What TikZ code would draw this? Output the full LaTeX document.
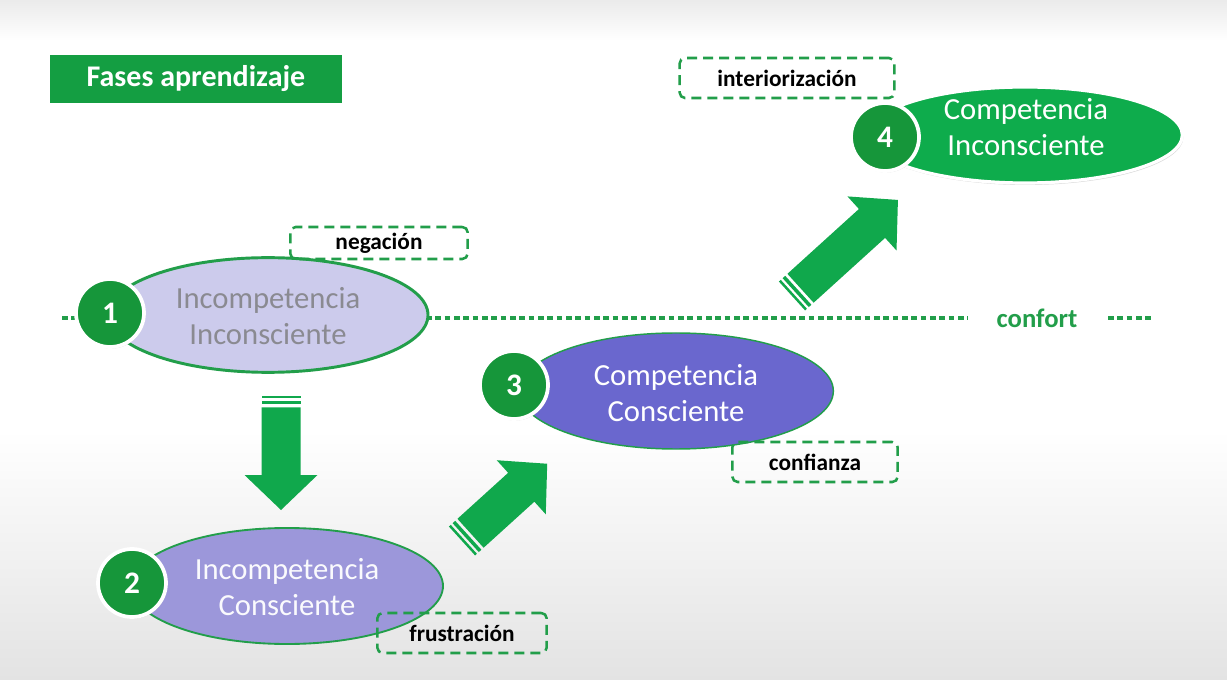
\documentclass[tikz,border=0pt]{standalone}
\usepackage{fontspec}
\setmainfont{Carlito}
\usetikzlibrary{shapes.geometric,shadows}

\definecolor{gA}{RGB}{16,168,76}
\definecolor{gT}{RGB}{20,158,66}
\definecolor{gC}{RGB}{22,150,58}
\definecolor{gL}{RGB}{34,158,74}
\definecolor{gE}{RGB}{14,172,76}
\definecolor{lavA}{RGB}{204,203,236}
\definecolor{lavB}{RGB}{156,151,218}
\definecolor{lavC}{RGB}{106,103,206}
\definecolor{txtG}{RGB}{138,138,145}

\newcommand\blockarr[3]{%
  \begin{scope}[shift={#1}, rotate=#2]
    \fill[gA] (0,-19.5) rectangle (2.5,19.5);
    \fill[gA] (5,-19.5) rectangle (8.5,19.5);
    \fill[gA] (11.5,-19.5) -- ({#3-35},-19.5) -- ({#3-35},-36.5) -- (#3,0)
      -- ({#3-35},36.5) -- ({#3-35},19.5) -- (11.5,19.5) -- cycle;
  \end{scope}}

\begin{document}
\begin{tikzpicture}[x=0.75pt,y=-0.75pt,
  ell/.style={ellipse, inner sep=0pt},
  etext/.style={align=center, font=\fontsize{23}{27}\selectfont},
  num/.style={circle, fill=gC, draw=white, line width=2.8pt, minimum size=51pt,
    inner sep=0pt, text=white, font=\fontsize{23.5}{25}\selectfont\bfseries,
    drop shadow={shadow xshift=0.8pt, shadow yshift=-1.2pt, opacity=0.3}},
  lbl/.style={draw=gL, dash pattern=on 7.5pt off 4.5pt, line width=1.9pt,
    rounded corners=4pt, inner sep=0pt, font=\fontsize{17.5}{20}\selectfont\bfseries},
  dotline/.style={draw=gL, line width=3.4pt, dash pattern=on 4.2pt off 2.8pt}
]
\useasboundingbox (0,0) rectangle (1227,680);
\fill[white] (0,0) rectangle (1227,680);
\shade[top color=black!8, bottom color=white] (0,0) rectangle (1227,40);
\shade[top color=white, bottom color=black!11] (0,430) rectangle (1227,680);

% title
\node[fill=gT, minimum width=219pt, minimum height=36pt, inner sep=0pt,
  text=white, font=\fontsize{22.5}{26}\selectfont\bfseries] (title) at (196,79) {Fases aprendizaje};

% comfort line
\coordinate (d1) at (62,318);
\coordinate (d2) at (968,318);
\coordinate (d3) at (1108,318);
\coordinate (d4) at (1153,318);
\draw[dotline] (d1) -- (d2);
\draw[dotline] (d3) -- (d4);
\node[text=gL, font=\fontsize{20}{24}\selectfont\bfseries] (confort) at (1037,318) {confort};

% ellipses
\node[ell, fill=lavA, draw=gL, line width=2.2pt, minimum width=240pt, minimum height=86pt] (e1) at (268,315) {};
\node[etext, text=txtG] (t1) at (268,316) {Incompetencia\\Inconsciente};

\node[ell, fill=lavB, draw=gL, line width=1.4pt, minimum width=234pt, minimum height=87pt] (e2) at (287,586) {};
\node[etext, text=white!95!lavB] (t2) at (287,587) {Incompetencia\\Consciente};

\node[ell, fill=lavC, draw=gL, line width=1.1pt, minimum width=236pt, minimum height=87pt] (e3) at (676,391) {};
\node[etext, text=white] (t3) at (676,393) {Competencia\\Consciente};

\node[ell, fill=gE, draw=white, line width=2.4pt, minimum width=236pt, minimum height=72pt,
  drop shadow={shadow xshift=0.8pt, shadow yshift=-1.5pt, opacity=0.3}] (e4) at (1025,135) {};
\node[etext, text=white] (t4) at (1026,127) {Competencia\\Inconsciente};

% numbers
\node[num] (n1) at (110,313) {1};
\node[num] (n2) at (132,583) {2};
\node[num] (n3) at (514,385) {3};
\node[num] (n4) at (885,137) {4};

% labels
\node[lbl, minimum width=133pt, minimum height=24pt] (l1) at (379,243) {negación};
\node[lbl, minimum width=127pt, minimum height=30pt] (l2) at (462,633) {frustración};
\node[lbl, minimum width=124pt, minimum height=30pt] (l3) at (815,462) {confianza};
\node[lbl, minimum width=161pt, minimum height=30pt] (l4) at (787,78) {interiorización};

% arrows
\coordinate (a1) at (281,396);
\coordinate (a2) at (462,541);
\coordinate (a3) at (792,296);
\blockarr{(a1)}{-90}{114}
\blockarr{(a2)}{42.2}{115}
\blockarr{(a3)}{42.2}{143}
\end{tikzpicture}
\end{document}
